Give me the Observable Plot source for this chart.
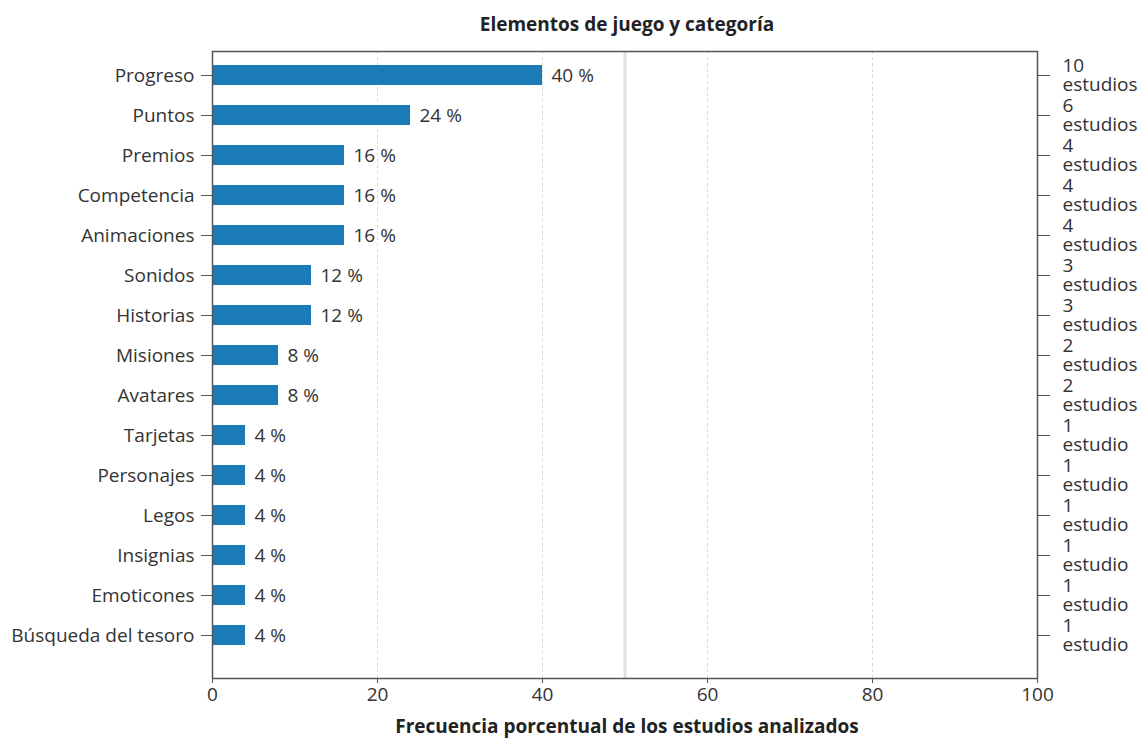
<!DOCTYPE html>
<html>
<head>
<meta charset="utf-8">
<script src="https://cdn.jsdelivr.net/npm/d3@7"></script>
<script src="https://cdn.jsdelivr.net/npm/@observablehq/plot@0.6"></script>
<style>
  html, body { margin: 0; padding: 0; background: #fff; }
  body { width: 1142px; height: 738px; font-family: "Open Sans", "Noto Sans", sans-serif; color: #222; }
  .title { height: 40px; line-height: 48px; font-size: 19px; font-weight: bold; text-align: center; padding-left: 112px; box-sizing: border-box; width: 1142px; }
  .caption { height: 26px; line-height: 28px; font-size: 19px; font-weight: bold; text-align: center; padding-left: 112px; box-sizing: border-box; width: 1142px; }
  svg { display: block; }
</style>
</head>
<body>
<div class="title">Elementos de juego y categoría</div>
<div id="chart"></div>
<div class="caption">Frecuencia porcentual de los estudios analizados</div>
<script>
const categories = ["Progreso", "Puntos", "Premios", "Competencia", "Animaciones", "Sonidos", "Historias", "Misiones", "Avatares", "Tarjetas", "Personajes", "Legos", "Insignias", "Emoticones", "Búsqueda del tesoro"];
const percent = [40, 24, 16, 16, 16, 12, 12, 8, 8, 4, 4, 4, 4, 4, 4];
const studies = [10, 6, 4, 4, 4, 3, 3, 2, 2, 1, 1, 1, 1, 1, 1];
const xTicks = [0, 20, 40, 60, 80, 100];
const gridTicks = [20, 40, 60, 80];
const refLine = [50];

const data = categories.map((c, i) => ({category: c, percent: percent[i], studies: studies[i]}));
const studyLabel = new Map(data.map(d => [d.category, d.studies + "\n" + (d.studies === 1 ? "estudio" : "estudios")]));

const chart = Plot.plot({
  width: 1142,
  height: 672,
  marginTop: 11,
  marginBottom: 34,
  marginLeft: 212,
  marginRight: 105,
  style: {fontFamily: "'Open Sans', 'Noto Sans', sans-serif", fontSize: "19px", color: "#333"},
  x: {domain: [0, 100]},
  y: {domain: categories, paddingInner: 0.5, paddingOuter: 0, insetTop: 13, insetBottom: 32},
  marks: [
    Plot.ruleX(gridTicks, {stroke: "#d8d8d8", strokeDasharray: "3,3"}),
    Plot.ruleX(refLine, {stroke: "#e2e2e2", strokeWidth: 3}),
    Plot.barX(data, {x: "percent", y: "category", fill: "#1b7bb6"}),
    Plot.text(data, {x: "percent", y: "category", text: d => d.percent + " %", dx: 9, textAnchor: "start", fill: "#333", fontSize: 19}),
    Plot.frame({stroke: "#555", strokeWidth: 1.5}),
    Plot.axisY({anchor: "left", tickSize: 11, tickPadding: 7, label: null, stroke: "#555", fill: "#333"}),
    Plot.axisY({anchor: "right", tickSize: 12, tickPadding: 13, label: null, tickFormat: c => studyLabel.get(c), lineHeight: 0.98, stroke: "#555", fill: "#333"}),
    Plot.axisX({anchor: "bottom", ticks: xTicks, tickSize: 5, tickPadding: 4, label: null, stroke: "#555", fill: "#333"})
  ]
});
document.getElementById("chart").appendChild(chart);
</script>
</body>
</html>
